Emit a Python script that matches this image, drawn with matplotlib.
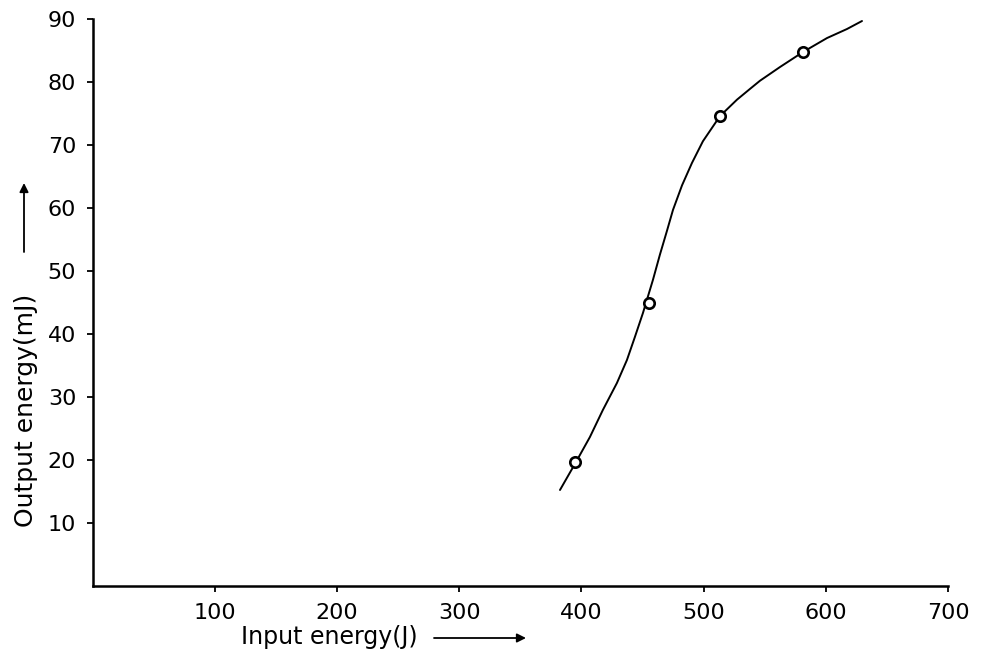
import matplotlib
matplotlib.use("Agg")
import matplotlib.pyplot as plt

# Measured points
input_energy = [395, 455, 513, 581]
output_energy = [19.7, 44.9, 74.6, 84.8]

# Hand-drawn trend curve through the measurements
curve_x = [382.4, 395.5, 406.9, 417.5, 429.0, 437.2, 443.7, 450.3, 458.5, 464.2,
           470.0, 474.9, 482.3, 490.4, 499.4, 513.4, 527.3, 537.9, 546.1, 562.5,
           581.3, 601.0, 617.3, 629.6]
curve_y = [15.24, 19.68, 23.65, 27.94, 32.22, 35.87, 39.52, 43.33, 48.6, 52.6,
           56.4, 59.7, 63.6, 67.14, 70.6, 74.60, 77.2, 78.9, 80.2, 82.38,
           84.76, 86.98, 88.41, 89.68]

x_ticks = [100, 200, 300, 400, 500, 600, 700]
y_ticks = [10, 20, 30, 40, 50, 60, 70, 80, 90]

W, H = 981, 667
fig = plt.figure(figsize=(W / 100, H / 100), dpi=100)
ax = fig.add_axes([92.8 / W, (H - 586) / H, (948 - 92.8) / W, (586 - 19) / H])

ax.plot(curve_x, curve_y, color="black", lw=1.4, solid_capstyle="round",
        solid_joinstyle="round")
ax.plot(input_energy, output_energy, linestyle="none", marker="o",
        markersize=7.5, markerfacecolor="white", markeredgecolor="black",
        markeredgewidth=1.9)

ax.set_xlim(0, 700)
ax.set_ylim(0, 90)
ax.set_xticks(x_ticks)
ax.set_yticks(y_ticks)
ax.set_xticklabels([str(v) for v in x_ticks])
ax.set_yticklabels([str(v) for v in y_ticks])

for side in ("top", "right"):
    ax.spines[side].set_visible(False)
for side in ("left", "bottom"):
    ax.spines[side].set_linewidth(1.8)

ax.tick_params(axis="both", direction="out", length=4, width=1.3,
               labelsize=16, colors="black")
ax.tick_params(axis="x", pad=8)
ax.tick_params(axis="y", pad=8)

# Axis titles with direction arrows
fig.text(329 / W, 1 - 644 / H, "Input energy(J)", ha="center", va="baseline",
         fontsize=17)
ax.annotate("", xy=(526 / W, 1 - 638 / H), xycoords="figure fraction",
            xytext=(434 / W, 1 - 638 / H), textcoords="figure fraction",
            arrowprops=dict(arrowstyle="-|>", lw=1.3, color="black",
                            mutation_scale=13, shrinkA=0, shrinkB=0))

fig.text(26 / W, 1 - 410 / H, "Output energy(mJ)", ha="center", va="center",
         rotation=90, fontsize=18)
ax.annotate("", xy=(24 / W, 1 - 183 / H), xycoords="figure fraction",
            xytext=(24 / W, 1 - 252 / H), textcoords="figure fraction",
            arrowprops=dict(arrowstyle="-|>", lw=1.3, color="black",
                            mutation_scale=13, shrinkA=0, shrinkB=0))

fig.savefig("out.png", dpi=100, facecolor="white")
